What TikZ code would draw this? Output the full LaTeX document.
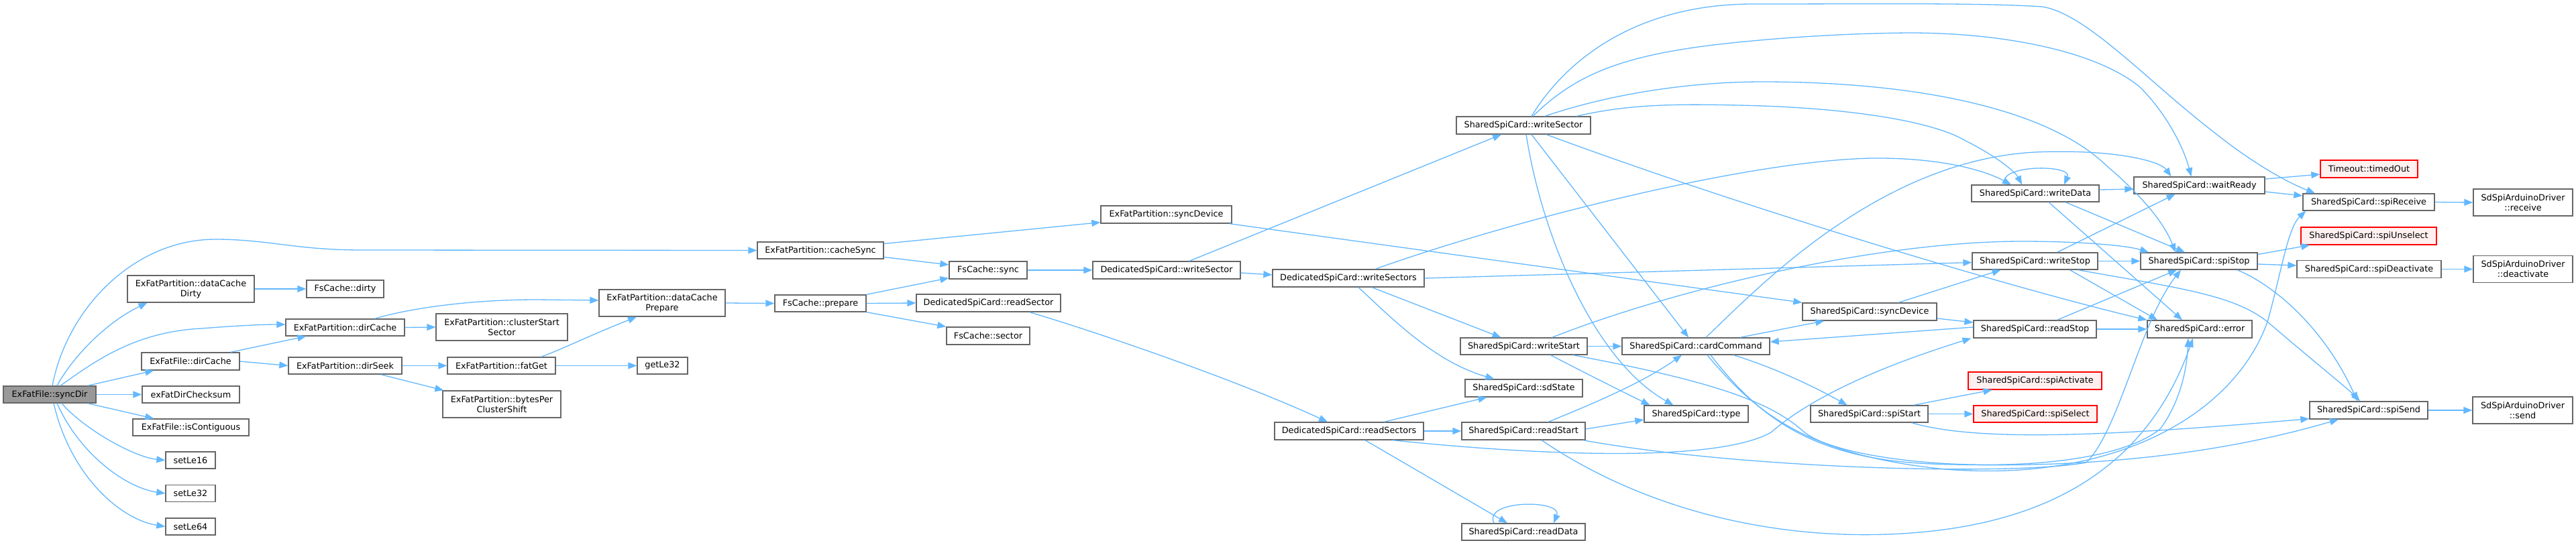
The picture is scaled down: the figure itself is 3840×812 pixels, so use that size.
\documentclass[tikz,border=0pt]{standalone}
\usepackage{fontspec}
\setmainfont{DejaVu Sans}
\usetikzlibrary{arrows.meta,calc}
\definecolor{edgeblue}{HTML}{63B8FF}
\definecolor{boxgrey}{HTML}{666666}
\definecolor{rootfill}{HTML}{999999}
\definecolor{redfill}{HTML}{FFF0F0}
\definecolor{redline}{HTML}{FF0000}
\newcommand{\nodefont}{\fontsize{12.8pt}{15pt}\selectfont}
\begin{document}
\begin{tikzpicture}[x=1pt,y=-1pt,
  box/.style={draw=boxgrey,fill=white,line width=1.3pt,inner sep=0pt,align=center,font=\nodefont,text=black},
  rootbox/.style={box,fill=rootfill},
  redbox/.style={box,draw=redline,fill=redfill},
  edge/.style={draw=edgeblue,line width=1.3pt,-{Triangle[length=13pt,width=10pt]}},
]
\fill[white] (0,0) rectangle (3840,812);
\useasboundingbox (0,0) rectangle (3840,812);

% ---- nodes ----
\node[rootbox,minimum width=138pt,minimum height=25pt] (sync) at (74,588.5) {ExFatFile::syncDir};
\node[box,minimum width=189pt,minimum height=40pt] (dcd) at (284.5,431) {ExFatPartition::dataCache\\Dirty};
\node[box,minimum width=115pt,minimum height=26pt] (fsd) at (514.5,431) {FsCache::dirty};
\node[box,minimum width=177pt,minimum height=25pt] (pdc) at (514.5,488.5) {ExFatPartition::dirCache};
\node[box,minimum width=146pt,minimum height=26pt] (fdc) at (284,539) {ExFatFile::dirCache};
\node[box,minimum width=169pt,minimum height=25pt] (dsk) at (514.5,545.5) {ExFatPartition::dirSeek};
\node[box,minimum width=145pt,minimum height=25pt] (chk) at (284.5,588.5) {exFatDirChecksum};
\node[box,minimum width=173pt,minimum height=25pt] (ctg) at (284.5,637.5) {ExFatFile::isContiguous};
\node[box,minimum width=74pt,minimum height=25pt] (le16) at (284,686.5) {setLe16};
\node[box,minimum width=74pt,minimum height=25pt] (le32) at (284,736) {setLe32};
\node[box,minimum width=74pt,minimum height=25pt] (le64) at (284,785.5) {setLe64};

\node[box,minimum width=188pt,minimum height=25pt] (csy) at (1223,373.5) {ExFatPartition::cacheSync};
\node[box,minimum width=188pt,minimum height=40pt] (dcp) at (987,452) {ExFatPartition::dataCache\\Prepare};
\node[box,minimum width=136pt,minimum height=25pt] (fsp) at (1223,452.5) {FsCache::prepare};
\node[box,minimum width=196pt,minimum height=40pt] (css) at (748,488) {ExFatPartition::clusterStart\\Sector};
\node[box,minimum width=161pt,minimum height=25pt] (fg) at (747.5,545.5) {ExFatPartition::fatGet};
\node[box,minimum width=75pt,minimum height=25pt] (gl32) at (987.5,545.5) {getLe32};
\node[box,minimum width=176pt,minimum height=40pt] (bpc) at (748,603) {ExFatPartition::bytesPer\\ClusterShift};

\node[box,minimum width=195pt,minimum height=26pt] (psd) at (1738.5,320) {ExFatPartition::syncDevice};
\node[box,minimum width=116pt,minimum height=26pt] (fss) at (1473,403) {FsCache::sync};
\node[box,minimum width=220pt,minimum height=26pt] (dws) at (1739,403) {DedicatedSpiCard::writeSector};
\node[box,minimum width=226pt,minimum height=26pt] (dwss) at (2010,415) {DedicatedSpiCard::writeSectors};
\node[box,minimum width=215pt,minimum height=26pt] (drs) at (1473.5,452) {DedicatedSpiCard::readSector};
\node[box,minimum width=124pt,minimum height=26pt] (fsec) at (1473,501) {FsCache::sector};

\node[box,minimum width=200pt,minimum height=26pt] (sws) at (2271,187) {SharedSpiCard::writeSector};
\node[box,minimum width=189pt,minimum height=25pt] (wst) at (2271.5,516.5) {SharedSpiCard::writeStart};
\node[box,minimum width=220pt,minimum height=25pt] (cc) at (2528,516.5) {SharedSpiCard::cardCommand};
\node[box,minimum width=175pt,minimum height=26pt] (sds) at (2271.5,579) {SharedSpiCard::sdState};
\node[box,minimum width=155pt,minimum height=25pt] (typ) at (2528.5,617.5) {SharedSpiCard::type};
\node[box,minimum width=222pt,minimum height=26pt] (rss) at (2011,643) {DedicatedSpiCard::readSectors};
\node[box,minimum width=184pt,minimum height=26pt] (rst) at (2271,643) {SharedSpiCard::readStart};
\node[box,minimum width=184pt,minimum height=25pt] (rd) at (2271,793.5) {SharedSpiCard::readData};

\node[box,minimum width=190pt,minimum height=25pt] (wd) at (3034,288.5) {SharedSpiCard::writeData};
\node[box,minimum width=187pt,minimum height=25pt] (wsp) at (3033.5,389.5) {SharedSpiCard::writeStop};
\node[box,minimum width=200pt,minimum height=26pt] (ssd) at (2787,465) {SharedSpiCard::syncDevice};
\node[box,minimum width=183pt,minimum height=26pt] (rsp) at (3033.5,491) {SharedSpiCard::readStop};
\node[redbox,minimum width=199pt,minimum height=26pt] (act) at (3033.5,568) {SharedSpiCard::spiActivate};
\node[box,minimum width=175pt,minimum height=25pt] (sst) at (2786.5,617.5) {SharedSpiCard::spiStart};
\node[redbox,minimum width=184pt,minimum height=25pt] (sel) at (3034,617.5) {SharedSpiCard::spiSelect};

\node[box,minimum width=195pt,minimum height=25pt] (wr) at (3278.5,276.5) {SharedSpiCard::waitReady};
\node[redbox,minimum width=145pt,minimum height=26pt] (to) at (3531.5,252) {Timeout::timedOut};
\node[box,minimum width=196pt,minimum height=25pt] (rcv) at (3531,301.5) {SharedSpiCard::spiReceive};
\node[box,minimum width=148pt,minimum height=40pt] (drcv) at (3761,302) {SdSpiArduinoDriver\\::receive};
\node[redbox,minimum width=202pt,minimum height=26pt] (uns) at (3531,352) {SharedSpiCard::spiUnselect};
\node[box,minimum width=174pt,minimum height=25pt] (stp) at (3278,389.5) {SharedSpiCard::spiStop};
\node[box,minimum width=215pt,minimum height=26pt] (dea) at (3531.5,401.5) {SharedSpiCard::spiDeactivate};
\node[box,minimum width=148pt,minimum height=40pt] (ddea) at (3761,401.5) {SdSpiArduinoDriver\\::deactivate};
\node[box,minimum width=156pt,minimum height=26pt] (err) at (3279,491) {SharedSpiCard::error};
\node[box,minimum width=176pt,minimum height=26pt] (snd) at (3531,612) {SharedSpiCard::spiSend};
\node[box,minimum width=149pt,minimum height=40pt] (dsnd) at (3760.5,612) {SdSpiArduinoDriver\\::send};

% ---- edges ----
% syncDir
\draw[edge] ([xshift=4pt]sync.north) .. controls (100,460) and (200,357) .. (321,357) .. controls (400,357) and (440,373) .. (540,373) -- (csy.west);
\draw[edge] ([xshift=11pt]sync.north) .. controls (110,530) and (160,480) .. ([xshift=-65pt]dcd.south);
\draw[edge] ([xshift=16pt]sync.north) .. controls (140,540) and (200,495) .. (300,490) .. controls (350,486) and (390,484) .. ([yshift=4.5pt]pdc.west);
\draw[edge] ([xshift=-13pt]sync.north east) -- ([xshift=19pt]fdc.south west);
\draw[edge] (sync.east) -- (chk.west);
\draw[edge] ([xshift=-13pt]sync.south east) -- ([xshift=32pt]ctg.north west);
\draw[edge] ([xshift=18pt]sync.south) .. controls (125,640) and (200,682) .. (le16.west);
\draw[edge] ([xshift=11pt]sync.south) .. controls (120,680) and (190,728) .. (le32.west);
\draw[edge] ([xshift=6pt]sync.south) .. controls (105,710) and (180,775) .. (le64.west);
% left part
\draw[edge] (dcd.east) -- (fsd.west);
\draw[edge] ([xshift=44pt]pdc.north) .. controls (610,460) and (700,447) .. (800,447) -- ([yshift=4pt]dcp.west);
\draw[edge] (pdc.east) -- (css.west);
\draw[edge] ([xshift=-14pt]fdc.north east) -- ([xshift=31pt]pdc.south west);
\draw[edge] (fdc.east) -- (dsk.west);
\draw[edge] (dsk.east) -- (fg.west);
\draw[edge] ([xshift=-32pt]dsk.south east) -- ([xshift=2pt]bpc.north west);
\draw[edge] ([xshift=-22pt]fg.north east) .. controls (840,520) and (880,500) .. ([xshift=-38pt]dcp.south);
\draw[edge] (fg.east) -- (gl32.west);
\draw[edge] (dcp.east) -- (fsp.west);
\draw[edge] ([yshift=10pt]csy.east) -- ([yshift=2pt]psd.south west);
\draw[edge] ([yshift=-10pt]csy.east) -- ([yshift=8pt]fss.west);
\draw[edge] (fsp.north east) -- ([yshift=2pt]fss.south west);
\draw[edge] (fsp.east) -- (drs.west);
\draw[edge] (fsp.south east) -- (fsec.north west);
\draw[edge] (fss.east) -- (dws.west);
\draw[edge] ([xshift=-4pt]psd.south east) -- (ssd.north west);
\draw[edge] ([xshift=34pt]dws.north) -- ([xshift=-33pt]sws.south);
\draw[edge] ([yshift=-4pt]dws.east) -- ([yshift=5pt]dwss.west);
\draw[edge] ([xshift=-47pt]drs.south east) .. controls (1650,500) and (1850,570) .. ([xshift=-32pt]rss.north);
% DedicatedSpiCard::writeSectors
\draw[edge] ([xshift=40pt]dwss.north) .. controls (2250,330) and (2600,240) .. (2790,236) .. controls (2880,235) and (2950,250) .. ([xshift=-36pt]wd.north);
\draw[edge] (dwss.east) -- ([yshift=-2pt]wsp.west);
\draw[edge] ([xshift=35pt]dwss.south) -- ([xshift=-34pt]wst.north);
\draw[edge] ([xshift=15pt]dwss.south) .. controls (2080,480) and (2140,540) .. ([xshift=-44pt]sds.north);
% DedicatedSpiCard::readSectors
\draw[edge] (rss.east) -- (rst.west);
\draw[edge] ([xshift=52pt]rss.north) -- ([xshift=-55pt]sds.south);
\draw[edge] ([xshift=24pt]rss.south) -- ([xshift=-24pt]rd.north);
\draw[edge] ([xshift=65pt]rss.south) .. controls (2300,680) and (2560,690) .. (2640,645) .. controls (2680,610) and (2760,560) .. ([xshift=-3pt]rsp.south west);
% readStart
\draw[edge] ([xshift=37pt]rst.north) .. controls (2380,600) and (2450,570) .. ([xshift=-21pt]cc.south);
\draw[edge] ([yshift=3pt]rst.east) -- ([yshift=-8.5pt]typ.west);
\draw[edge] ([xshift=27pt]rst.south) .. controls (2450,760) and (2650,810) .. (2850,795) .. controls (3050,780) and (3200,700) .. ([xshift=-10pt]err.south);
\draw[edge] ([xshift=-4pt]rst.south east) .. controls (2600,700) and (3000,710) .. (3110,690) .. controls (3160,640) and (3190,480) .. ([xshift=-27pt]stp.south);
% readData self loop
\draw[edge] ([xshift=-44pt]rd.north) .. controls (2210,745) and (2330,745) .. ([xshift=45pt]rd.north);
% writeStart
\draw[edge] (wst.east) -- (cc.west);
\draw[edge] ([xshift=40pt]wst.south) .. controls (2360,555) and (2420,585) .. ([xshift=-69pt]typ.north);
\draw[edge] ([xshift=-22pt]wst.south east) .. controls (2560,570) and (2640,600) .. (2690,645) .. controls (2760,700) and (3120,720) .. (3220,640) .. controls (3250,600) and (3260,550) .. ([xshift=-17pt]err.south);
\draw[edge] ([xshift=42pt]wst.north) .. controls (2500,430) and (2800,360) .. (3014,360) .. controls (3100,360) and (3170,366) .. ([xshift=-75pt]stp.north);
% cardCommand
\draw[edge] ([xshift=15pt]cc.north) .. controls (2620,430) and (2800,240) .. (3033,227) .. controls (3150,222) and (3220,240) .. ([xshift=-42pt]wr.north);
\draw[edge] ([xshift=66pt]cc.north) -- ([xshift=33pt]ssd.south west);
\draw[edge] ([xshift=56pt]cc.south) .. controls (2650,550) and (2710,580) .. ([xshift=-33pt]sst.north);
\draw[edge] ([xshift=17pt]cc.south) .. controls (2620,620) and (2700,680) .. (2900,700) .. controls (3150,720) and (3330,620) .. (3380,480) .. controls (3400,410) and (3410,340) .. ([xshift=5pt]rcv.south west);
\draw[edge] ([xshift=22pt]cc.south) .. controls (2620,620) and (2700,685) .. (2880,692) .. controls (3100,700) and (3300,680) .. ([xshift=-45pt]snd.south);
% syncDevice / readStop / spiStart
\draw[edge] ([yshift=-10pt]ssd.east) -- ([yshift=10pt]rsp.west);
\draw[edge] ([xshift=43pt]ssd.north) -- ([xshift=-51pt]wsp.south);
\draw[edge] ([yshift=3pt]rsp.west) -- ([yshift=6.5pt]cc.east);
\draw[edge] (rsp.east) -- (err.west);
\draw[edge] ([xshift=33pt]rsp.north) -- ([xshift=-33pt]stp.south);
\draw[edge] ([xshift=66pt]sst.north) -- ([xshift=-64pt]act.south);
\draw[edge] (sst.east) -- (sel.west);
\draw[edge] ([xshift=-25pt]sst.south east) .. controls (2950,660) and (3150,650) .. ([yshift=1pt]snd.south west);
% writeData
\draw[edge] ([yshift=5.5pt]wd.east) -- ([yshift=-5.5pt]wr.west);
\draw[edge] ([xshift=-45pt]wd.north) .. controls (2975,245) and (3090,245) .. ([xshift=43pt]wd.north);
\draw[edge] ([xshift=45pt]wd.south) -- ([xshift=-21pt]stp.north);
\draw[edge] ([xshift=20pt]wd.south) -- ([xshift=-26pt]err.north);
% writeStop
\draw[edge] ([xshift=33pt]wsp.north) -- ([xshift=-36pt]wr.south);
\draw[edge] (wsp.east) -- (stp.west);
\draw[edge] ([xshift=52pt]wsp.south) -- ([xshift=-63pt]err.north);
\draw[edge] ([xshift=64pt]wsp.south) .. controls (3250,430) and (3330,440) .. (3380,480) .. controls (3450,540) and (3500,580) .. ([xshift=-13pt]snd.north);
% SharedSpiCard::writeSector
\draw[edge] ([xshift=12pt]sws.north) .. controls (2340,80) and (2450,6) .. (2613,6) .. controls (2800,6) and (2950,4) .. (3044,10) .. controls (3110,20) and (3200,120) .. (3300,197) .. controls (3360,245) and (3410,272) .. ([xshift=-80pt]rcv.north);
\draw[edge] ([xshift=14pt]sws.north) .. controls (2350,110) and (2420,80) .. (2591,63) .. controls (2700,52) and (2800,49) .. (2853,49) .. controls (3000,50) and (3130,80) .. (3190,130) .. controls (3230,170) and (3255,220) .. ([xshift=-12pt]wr.north);
\draw[edge] ([xshift=32pt]sws.north) .. controls (2400,140) and (2520,122) .. (2627,122) .. controls (2850,122) and (3050,160) .. (3140,247) .. controls (3190,290) and (3225,330) .. ([xshift=-35pt]stp.north);
\draw[edge] ([xshift=79pt]sws.north) .. controls (2430,155) and (2500,155) .. (2591,157) .. controls (2750,160) and (2880,180) .. (2930,210) .. controls (2980,235) and (3005,258) .. ([xshift=-20pt]wd.north);
\draw[edge] ([xshift=34pt]sws.south) .. controls (2600,310) and (3000,430) .. (err.north west);
\draw[edge] ([xshift=12pt]sws.south) -- ([xshift=-11pt]cc.north);
\draw[edge] ([xshift=4pt]sws.south) .. controls (2300,360) and (2380,540) .. ([xshift=-34pt]typ.north);
% right part
\draw[edge] ([yshift=9.5pt]wr.east) -- ([yshift=-8pt]to.west);
\draw[edge] ([yshift=-9.5pt]wr.east) -- ([yshift=9.5pt]rcv.west);
\draw[edge] ([yshift=10pt]stp.east) -- ([xshift=14pt]uns.south west);
\draw[edge] ([yshift=-4.5pt]stp.east) -- ([yshift=5.5pt]dea.west);
\draw[edge] ([xshift=57pt]stp.south) .. controls (3400,430) and (3470,500) .. ([xshift=-17pt]snd.north);
\draw[edge] (rcv.east) -- (drcv.west);
\draw[edge] (dea.east) -- (ddea.west);
\draw[edge] (snd.east) -- (dsnd.west);
\end{tikzpicture}
\end{document}
